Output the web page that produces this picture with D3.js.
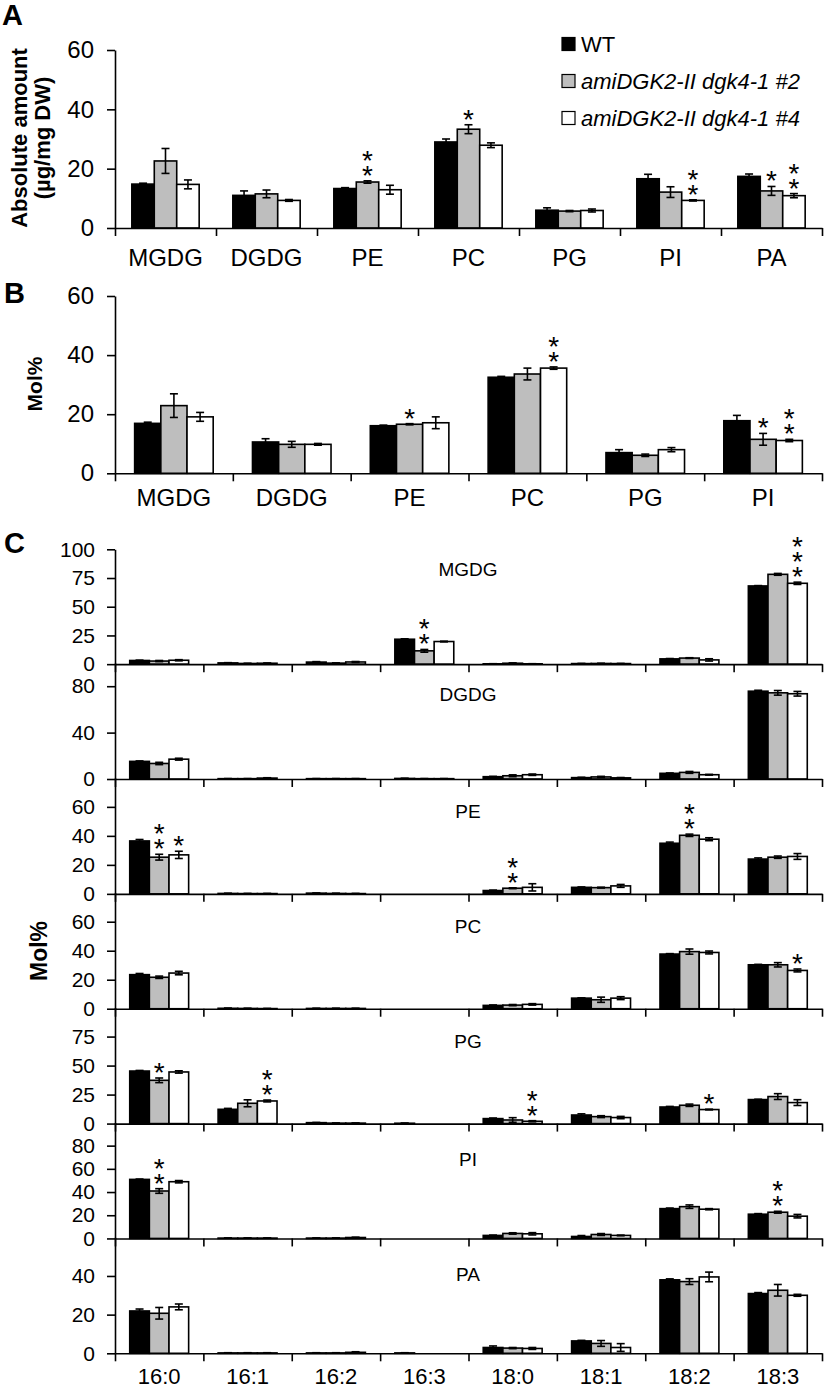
<!DOCTYPE html>
<html>
<head>
<meta charset="utf-8">
<script src="https://cdn.jsdelivr.net/npm/d3@7/dist/d3.min.js"></script>
<style>
  html, body { margin: 0; padding: 0; background: #fff; }
  svg { display: block; }
</style>
</head>
<body>
<script>
// ---------------- DATA ----------------
const seriesNames = ["WT", "amiDGK2-II dgk4-1 #2", "amiDGK2-II dgk4-1 #4"];

// Panel A: absolute amount (µg/mg DW)
const lipidsA = ["MGDG", "DGDG", "PE", "PC", "PG", "PI", "PA"];
const absWT   = [14.8, 11.0, 13.3, 29.0, 6.0, 16.6, 17.4];
const absL2   = [22.6, 11.5, 15.5, 33.3, 5.7, 12.1, 12.5];
const absL4   = [14.7,  9.3, 12.9, 27.9, 5.9,  9.3, 10.9];
const absErrWT = [0.3, 1.5, 0.3, 1.0, 0.8, 1.5, 0.8];
const absErrL2 = [4.2, 1.3, 0.4, 1.5, 0.2, 1.8, 1.5];
const absErrL4 = [1.5, 0.3, 1.5, 0.8, 0.5, 0.2, 0.7];
const absStars = [[0,0,0,0,0,0,0],[0,0,2,1,0,0,1],[0,0,0,0,0,2,2]];
const absTicks = [0, 20, 40, 60];

// Panel B: Mol%
const lipidsB = ["MGDG", "DGDG", "PE", "PC", "PG", "PI"];
const molWT   = [16.9, 10.6, 16.1, 32.5, 7.0, 17.8];
const molL2   = [22.9,  9.8, 16.6, 33.6, 6.1, 11.5];
const molL4   = [19.1,  9.8, 17.1, 35.6, 8.0, 11.1];
const molErrWT = [0.4, 1.1, 0.2, 0.3, 1.0, 1.8];
const molErrL2 = [4.0, 1.0, 0.2, 2.0, 0.4, 2.0];
const molErrL4 = [1.5, 0.3, 2.0, 0.4, 0.7, 0.4];
const molStars = [[0,0,0,0,0,0],[0,0,1,0,0,1],[0,0,0,2,0,2]];
const molTicks = [0, 20, 40, 60];

// Panel C: fatty acid composition (Mol%)
const fattyAcids = ["16:0", "16:1", "16:2", "16:3", "18:0", "18:1", "18:2", "18:3"];
const classesC = ["MGDG", "DGDG", "PE", "PC", "PG", "PI", "PA"];

const mgdgMeans = [[3.2, 1.1, 1.8, 21.7, 0.3, 0.5, 4.6, 68.1],
                   [2.7, 0.6, 0.9, 11.6, 0.8, 0.6, 5.3, 78.2],
                   [3.4, 0.8, 1.9, 19.7, 0.3, 0.5, 3.7, 70.4]];
const mgdgErrs  = [[0.3, 0.2, 0.4, 0.4, 0.1, 0.1, 0.3, 0.3],
                   [0.5, 0.1, 0.2, 1.2, 0.3, 0.1, 0.3, 0.8],
                   [0.5, 0.2, 0.4, 0.3, 0.1, 0.1, 1.0, 1.0]];
const mgdgStars = [[0,0,0,0,0,0,0,0],[0,0,0,2,0,0,0,0],[0,0,0,0,0,0,0,3]];

const dgdgMeans = [[15.2, 0.3, 0.3, 0.5, 2.0, 1.2, 4.9, 75.7],
                   [13.4, 0.3, 0.3, 0.3, 2.8, 1.8, 5.7, 74.3],
                   [17.1, 0.8, 0.3, 0.3, 3.7, 1.0, 3.7, 73.5]];
const dgdgErrs  = [[0.4, 0.1, 0.1, 0.1, 0.3, 0.3, 0.3, 0.8],
                   [1.0, 0.1, 0.1, 0.1, 0.8, 0.5, 0.8, 2.0],
                   [0.8, 0.3, 0.1, 0.1, 0.6, 0.3, 0.3, 2.0]];
const dgdgStars = [[0,0,0,0,0,0,0,0],[0,0,0,0,0,0,0,0],[0,0,0,0,0,0,0,0]];

const peMeans = [[36.5, 0.3, 0.5, 0, 2.3, 4.5, 34.9, 24.0],
                 [25.3, 0.2, 0.3, 0, 3.9, 4.3, 40.4, 25.3],
                 [26.9, 0.2, 0.2, 0, 4.5, 5.5, 37.7, 25.8]];
const peErrs  = [[1.0, 0.1, 0.1, 0, 0.3, 0.3, 0.8, 0.8],
                 [2.0, 0.1, 0.1, 0, 0.3, 0.3, 0.8, 0.8],
                 [2.5, 0.1, 0.1, 0, 2.5, 1.0, 1.0, 2.0]];
const peStars = [[0,0,0,0,0,0,0,0],[2,0,0,0,2,0,2,0],[1,0,0,0,0,0,0,0]];

const pcMeans = [[23.5, 0.3, 0.2, 0, 2.3, 7.3, 37.7, 30.3],
                 [21.7, 0.2, 0.2, 0, 2.5, 6.2, 39.4, 30.3],
                 [24.6, 0.1, 0.2, 0, 3.0, 7.3, 38.8, 26.4]];
const pcErrs  = [[0.8, 0.1, 0.1, 0, 0.3, 0.2, 0.3, 0.3],
                 [0.8, 0.1, 0.1, 0, 0.4, 1.8, 1.8, 1.5],
                 [1.2, 0.1, 0.1, 0, 0.5, 1.0, 1.0, 1.0]];
const pcStars = [[0,0,0,0,0,0,0,0],[0,0,0,0,0,0,0,0],[0,0,0,0,0,0,0,1]];

const pgMeans = [[45.3, 12.3, 0.8, 0.3, 4.3, 7.4, 14.3, 20.7],
                 [37.3, 17.5, 0.4, 0,   3.1, 6.0, 15.8, 23.3],
                 [44.5, 19.5, 0.4, 0,   2.0, 5.2, 12.1, 18.1]];
const pgErrs  = [[0.5, 0.8, 0.2, 0.1, 0.5, 1.0, 0.5, 0.3],
                 [2.0, 3.0, 0.1, 0,   2.0, 0.8, 1.0, 2.5],
                 [1.0, 0.8, 0.1, 0,   0.5, 1.0, 0.3, 2.5]];
const pgStars = [[0,0,0,0,0,0,0,0],[1,0,0,0,0,0,0,0],[0,2,0,0,2,0,1,0]];

const piMeans = [[50.9, 0.3, 0.3, 0, 2.6, 1.7, 25.7, 20.9],
                 [40.9, 0.3, 0.3, 0, 4.3, 3.4, 27.4, 22.6],
                 [48.9, 0.3, 0.8, 0, 4.0, 2.6, 25.2, 19.2]];
const piErrs  = [[0.3, 0.1, 0.1, 0, 0.3, 0.8, 0.5, 0.5],
                 [2.0, 0.1, 0.1, 0, 0.6, 0.8, 1.5, 0.8],
                 [1.0, 0.1, 0.3, 0, 1.0, 0.3, 0.5, 1.5]];
const piStars = [[0,0,0,0,0,0,0,0],[2,0,0,0,0,0,0,2],[0,0,0,0,0,0,0,0]];

const paMeans = [[21.9, 0.2, 0.2, 0.2, 3.0, 6.4, 38.0, 30.9],
                 [20.7, 0.2, 0.2, 0,   2.7, 5.1, 37.1, 32.6],
                 [24.0, 0.2, 0.5, 0,   2.5, 3.0, 39.5, 30.0]];
const paErrs  = [[1.0, 0.1, 0.1, 0.1, 0.8, 0.3, 0.5, 0.5],
                 [3.0, 0.1, 0.1, 0,   0.3, 1.5, 1.5, 3.0],
                 [1.5, 0.1, 0.3, 0,   0.5, 2.0, 2.5, 0.5]];
const paStars = [[0,0,0,0,0,0,0,0],[0,0,0,0,0,0,0,0],[0,0,0,0,0,0,0,0]];

const cMaxima = [100, 100, 80, 80, 100, 100, 60];
const cTicks  = [[0,25,50,75,100],[0,40,80],[0,20,40,60],[0,20,40,60],[0,25,50,75],[0,20,40,60,80],[0,20,40]];

// ---------------- DRAWING ----------------
const FF = "'Liberation Sans', Arial, Helvetica, sans-serif";
const fills = ["#000000", "#bebebe", "#ffffff"];
const svg = d3.select("body").append("svg").attr("width", 826).attr("height", 1390)
  .style("font-family", FF);

const X0 = 115, X1 = 822;

function drawPanel(opt) {
  const g = svg.append("g");
  const n = opt.cats.length;
  const xBand = d3.scaleBand().domain(opt.cats).range([X0, X1]);
  const bw = xBand.bandwidth();
  const inner = d3.scaleBand().domain([0, 1, 2]).range([bw / 6, bw * 5 / 6]);
  const y = d3.scaleLinear().domain([0, opt.max]).range([opt.y0, opt.y0 - opt.h]);

  // bars
  opt.means.forEach((arr, s) => {
    g.append("g").selectAll("rect").data(arr).join("rect")
      .attr("x", (d, i) => xBand(opt.cats[i]) + inner(s))
      .attr("y", d => y(d))
      .attr("width", inner.bandwidth())
      .attr("height", d => opt.y0 - y(d))
      .attr("fill", fills[s])
      .attr("stroke", d => d > 0 ? "#000" : "none")
      .attr("stroke-width", 1.6);
  });

  // error bars
  opt.means.forEach((arr, s) => {
    const eg = g.append("g").attr("stroke", "#000").attr("stroke-width", 1.6);
    arr.forEach((d, i) => {
      const e = opt.errs[s][i];
      if (!(e > 0)) return;
      const cx = xBand(opt.cats[i]) + inner(s) + inner.bandwidth() / 2;
      const lo = Math.max(0, d - e), hi = d + e;
      eg.append("line").attr("x1", cx).attr("x2", cx).attr("y1", y(lo)).attr("y2", y(hi));
      eg.append("line").attr("x1", cx - 4).attr("x2", cx + 4).attr("y1", y(hi)).attr("y2", y(hi));
      eg.append("line").attr("x1", cx - 4).attr("x2", cx + 4).attr("y1", y(lo)).attr("y2", y(lo));
    });
  });

  // significance stars (one text per stack)
  opt.stars.forEach((arr, s) => {
    arr.forEach((k, i) => {
      if (!k) return;
      const cx = xBand(opt.cats[i]) + inner(s) + inner.bandwidth() / 2;
      const top = y(opt.means[s][i] + opt.errs[s][i]);
      const t = g.append("text").attr("x", cx).attr("y", top - 12 - (k - 1) * 15 + 16)
        .attr("text-anchor", "middle").style("font-size", "28px");
      for (let j = 0; j < k; j++) {
        t.append("tspan").attr("x", cx).attr("dy", j === 0 ? 0 : 15).text("*");
      }
    });
  });

  // y axis
  const ya = g.append("g").attr("transform", `translate(${X0},0)`)
    .call(d3.axisLeft(y).tickValues(opt.ticks).tickSize(8).tickSizeOuter(0).tickPadding(opt.tickPad));
  ya.selectAll("path,line").attr("stroke", "#000").attr("stroke-width", 1.6);
  ya.selectAll("text").style("font-size", opt.tickFont + "px").attr("fill", "#000").attr("font-family", FF);

  // x axis (boundary ticks)
  const xl = d3.scaleLinear().domain([0, n]).range([X0, X1]);
  const xa = g.append("g").attr("transform", `translate(0,${opt.y0})`)
    .call(d3.axisBottom(xl).tickValues(d3.range(n + 1)).tickSize(8).tickSizeOuter(0).tickFormat(""));
  xa.selectAll("path,line").attr("stroke", "#000").attr("stroke-width", 1.6);

  if (opt.labelPad != null) {
    const xc = g.append("g").attr("transform", `translate(0,${opt.y0})`)
      .call(d3.axisBottom(xBand).tickSize(0).tickPadding(opt.labelPad));
    xc.select(".domain").remove();
    xc.selectAll("text").style("font-size", opt.labelFont + "px").attr("fill", "#000").attr("font-family", FF);
  }
  return g;
}

// Panel A
drawPanel({
  cats: lipidsA, means: [absWT, absL2, absL4], errs: [absErrWT, absErrL2, absErrL4],
  stars: absStars, max: 60, ticks: absTicks, y0: 228, h: 178,
  tickFont: 24, tickPad: 13, labelFont: 24, labelPad: 21
});

// Panel B
drawPanel({
  cats: lipidsB, means: [molWT, molL2, molL4], errs: [molErrWT, molErrL2, molErrL4],
  stars: molStars, max: 60, ticks: molTicks, y0: 473.3, h: 177.3,
  tickFont: 24, tickPad: 13, labelFont: 24, labelPad: 16
});

// Panel C
const cMeans = [mgdgMeans, dgdgMeans, peMeans, pcMeans, pgMeans, piMeans, paMeans];
const cErrs  = [mgdgErrs, dgdgErrs, peErrs, pcErrs, pgErrs, piErrs, paErrs];
const cStars = [mgdgStars, dgdgStars, peStars, pcStars, pgStars, piStars, paStars];
const cTop = 549.3, cBottom = 1353.3, cH = (cBottom - cTop) / 7;
const cLabelOff = [95, 85, 83, 83, 83, 79, 79];
classesC.forEach((cls, k) => {
  const y0 = cTop + cH * (k + 1);
  drawPanel({
    cats: fattyAcids, means: cMeans[k], errs: cErrs[k], stars: cStars[k],
    max: cMaxima[k], ticks: cTicks[k], y0: y0, h: cH * (k === 0 ? 1 : 1.01),
    tickFont: 21, tickPad: 12, labelFont: 22, labelPad: k === 6 ? 15 : null
  });
  svg.append("text").attr("x", 468).attr("y", y0 - cLabelOff[k] + 7)
    .attr("text-anchor", "middle").style("font-size", "19px").text(cls);
});

// Panel letters
[["A", 2, 25], ["B", 4, 303], ["C", 4, 553]].forEach(([t, x, y]) => {
  svg.append("text").attr("x", x).attr("y", y).style("font-size", "29px")
    .style("font-weight", "bold").text(t);
});

// Axis titles
svg.append("text").attr("transform", "translate(27,138) rotate(-90)")
  .attr("text-anchor", "middle").style("font-size", "22px").style("font-weight", "bold")
  .text("Absolute amount");
svg.append("text").attr("transform", "translate(50,138) rotate(-90)")
  .attr("text-anchor", "middle").style("font-size", "22px").style("font-weight", "bold")
  .text("(µg/mg DW)");
svg.append("text").attr("transform", "translate(42,384) rotate(-90)")
  .attr("text-anchor", "middle").style("font-size", "21px").style("font-weight", "bold")
  .text("Mol%");
svg.append("text").attr("transform", "translate(47,951) rotate(-90)")
  .attr("text-anchor", "middle").style("font-size", "23px").style("font-weight", "bold")
  .text("Mol%");

// Legend
const legY = [44, 81, 118];
seriesNames.forEach((name, i) => {
  svg.append("rect").attr("x", 562).attr("y", legY[i] - 6.5).attr("width", 13).attr("height", 13)
    .attr("fill", fills[i]).attr("stroke", "#000").attr("stroke-width", 1.2);
  svg.append("text").attr("x", 581).attr("y", legY[i] + 8).style("font-size", "22px")
    .style("font-style", i === 0 ? "normal" : "italic").text(name);
});
</script>
</body>
</html>
